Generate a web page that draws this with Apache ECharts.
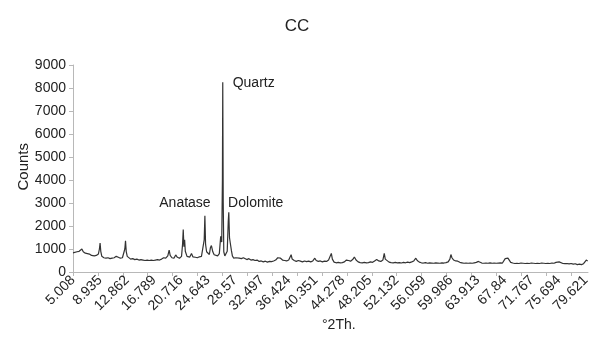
<!DOCTYPE html>
<html>
<head>
<meta charset="utf-8">
<script src="https://cdn.jsdelivr.net/npm/echarts@6/dist/echarts.min.js"></script>
<style>html,body{margin:0;padding:0;background:#fff}#c{width:594px;height:344px}</style>
</head>
<body>
<div id="c"></div>
<script>
const titleText = 'CC';
const xAxisName = '°2Th.';
const yAxisName = 'Counts';

const twoTheta = [
  5.01,5.3,5.6,5.9,6.1,6.3,6.5,6.8,7.1,7.4,
  7.7,7.9,8.1,8.4,8.7,8.85,8.95,9.05,9.2,9.5,
  9.8,10.1,10.4,10.7,11.0,11.3,11.45,11.6,11.9,12.2,
  12.4,12.55,12.65,12.75,12.9,13.1,13.4,13.7,14.0,14.3,
  14.6,14.9,15.2,15.5,15.8,16.1,16.4,16.7,17.0,17.3,
  17.6,17.9,18.2,18.5,18.8,19.0,19.15,19.4,19.7,19.95,
  20.2,20.5,20.8,20.95,21.05,21.15,21.25,21.35,21.6,21.8,
  22.0,22.25,22.45,22.8,23.1,23.4,23.7,23.95,24.1,24.2,
  24.3,24.45,24.65,24.85,25.0,25.15,25.35,25.55,25.8,26.05,
  26.3,26.5,26.65,26.75,26.8,26.87,26.95,27.1,27.3,27.45,
  27.6,27.68,27.78,27.9,28.05,28.2,28.4,28.7,28.9,29.2,
  29.5,29.8,30.0,30.3,30.6,30.9,31.2,31.5,31.8,32.1,
  32.4,32.7,33.0,33.3,33.6,33.9,34.2,34.5,34.8,35.0,
  35.2,35.5,35.8,36.1,36.4,36.6,36.75,36.9,37.2,37.5,
  37.8,38.1,38.4,38.7,39.0,39.3,39.6,39.9,40.2,40.4,
  40.7,41.0,41.3,41.6,41.9,42.2,42.45,42.6,42.75,43.0,
  43.3,43.6,43.9,44.2,44.5,44.8,45.1,45.4,45.7,45.95,
  46.2,46.5,46.8,47.1,47.4,47.7,48.0,48.3,48.6,48.9,
  49.2,49.5,49.8,50.1,50.3,50.45,50.7,51.0,51.3,51.6,
  51.9,52.2,52.5,52.8,53.1,53.4,53.7,54.0,54.3,54.6,
  54.9,55.1,55.4,55.7,56.0,56.3,56.6,56.9,57.2,57.5,
  57.8,58.1,58.4,58.7,59.0,59.3,59.6,59.85,60.0,60.15,
  60.4,60.7,61.0,61.3,61.6,61.9,62.2,62.5,62.8,63.1,
  63.4,63.7,64.0,64.2,64.5,64.8,65.1,65.4,65.7,66.0,
  66.3,66.6,66.9,67.2,67.5,67.75,67.9,68.1,68.3,68.5,
  68.7,69.0,69.3,69.6,69.9,70.2,70.5,70.8,71.1,71.4,
  71.7,72.0,72.3,72.6,72.9,73.2,73.5,73.8,74.1,74.4,
  74.7,75.0,75.3,75.55,75.75,76.0,76.3,76.6,76.9,77.2,
  77.5,77.8,78.1,78.4,78.7,79.0,79.3,79.55,79.7,79.9
];

const counts = [
  830,850,880,900,960,1000,880,820,800,780,
  720,760,700,720,780,1000,1260,900,680,620,
  600,620,580,600,620,680,760,640,600,620,
  700,1000,1360,900,680,620,560,580,540,560,
  520,540,520,500,520,500,520,500,520,540,
  520,560,620,600,700,950,720,620,600,740,
  640,600,680,1200,1850,1100,1400,900,680,620,
  650,800,660,640,620,660,680,720,1400,2450,
  1200,880,950,760,1050,1150,880,750,720,700,
  800,1550,1300,4000,8250,3000,880,700,660,900,
  2200,2600,1500,1250,950,700,600,620,560,600,
  580,620,560,540,580,520,540,500,520,460,
  480,440,470,430,460,450,480,520,620,700,
  600,520,500,480,520,650,750,560,500,460,
  500,470,440,480,450,470,440,480,600,500,
  460,480,440,470,460,520,600,810,560,430,
  400,420,400,410,440,520,500,470,540,650,
  520,440,410,400,420,400,410,440,420,480,
  540,480,460,520,810,560,480,430,410,400,
  420,400,410,390,420,400,430,410,440,480,
  600,500,430,400,390,410,380,400,390,380,
  400,390,380,400,390,410,440,560,760,620,
  520,480,470,420,400,380,390,380,390,380,
  400,420,460,430,390,380,390,380,400,380,
  390,380,390,400,390,440,580,560,600,560,
  420,390,370,380,370,390,380,370,380,370,
  390,380,370,380,370,390,380,370,380,370,
  390,380,420,500,440,380,370,360,370,350,
  370,340,360,320,340,320,360,420,520,480
];

const xTickLabels = ['5.008','8.935','12.862','16.789','20.716','24.643','28.57','32.497','36.424','40.351',
  '44.278','48.205','52.132','56.059','59.986','63.913','67.84','71.767','75.694','79.621'];
const xTickMarks = [5.008,8.631,12.254,15.877,19.5,23.123,26.746,30.369,33.992,37.615,
  41.238,44.861,48.484,52.107,55.73,59.353,62.976,66.599,70.222,73.845,77.468];

const annotations = [
  {name: 'Quartz', coord: [31.3, 8190]},
  {name: 'Anatase', coord: [21.3, 3000]},
  {name: 'Dolomite', coord: [31.6, 3000]}
];

const FONT = '"Liberation Sans", Arial, sans-serif';
const chart = echarts.init(document.getElementById('c'), null, {renderer: 'canvas'});
const seriesData = twoTheta.map((t, i) => [t, counts[i]]);
const xLabelValues = xTickLabels.map(Number);

chart.setOption({
  animation: false,
  backgroundColor: '#fff',
  title: {
    text: titleText, left: 'center', top: 13,
    textStyle: {fontFamily: FONT, fontSize: 17, fontWeight: 'normal', color: '#222'}
  },
  grid: {left: 73, right: 6, top: 65, bottom: 72},
  xAxis: {
    type: 'value', min: 5.008, max: 79.95,
    axisLine: {show: true, lineStyle: {color: '#b8b8b8', width: 1}},
    axisTick: {show: true, length: 4, lineStyle: {color: '#b8b8b8'}, customValues: xTickMarks},
    axisLabel: {
      rotate: 45, margin: 6, color: '#222', fontFamily: FONT, fontSize: 14,
      customValues: xLabelValues,
      formatter: v => { const i = xLabelValues.findIndex(x => Math.abs(x - v) < 1e-6); return i >= 0 ? xTickLabels[i] : ''; }
    },
    splitLine: {show: false}
  },
  yAxis: {
    type: 'value', min: 0, max: 9000, interval: 1000,
    axisLine: {show: true, lineStyle: {color: '#b8b8b8', width: 1}},
    axisTick: {show: true, length: 4, lineStyle: {color: '#b8b8b8'}},
    axisLabel: {margin: 7, color: '#222', fontFamily: FONT, fontSize: 14, formatter: v => String(v)},
    splitLine: {show: false}
  },
  graphic: [
    {type: 'text', left: 16, top: 143, rotation: Math.PI / 2,
      style: {text: yAxisName, font: '15px ' + FONT, fill: '#222'}},
    {type: 'text', left: 322, top: 318,
      style: {text: xAxisName, font: '14px ' + FONT, fill: '#222'}}
  ],
  series: [{
    type: 'line', data: seriesData, showSymbol: false, symbol: 'none',
    lineStyle: {color: '#333', width: 1.2},
    markPoint: {
      symbol: 'circle', symbolSize: 0,
      label: {show: true, position: 'inside', formatter: p => p.name, color: '#222', fontFamily: FONT, fontSize: 14},
      data: annotations.map(a => ({name: a.name, coord: a.coord}))
    }
  }]
});
</script>
</body>
</html>
